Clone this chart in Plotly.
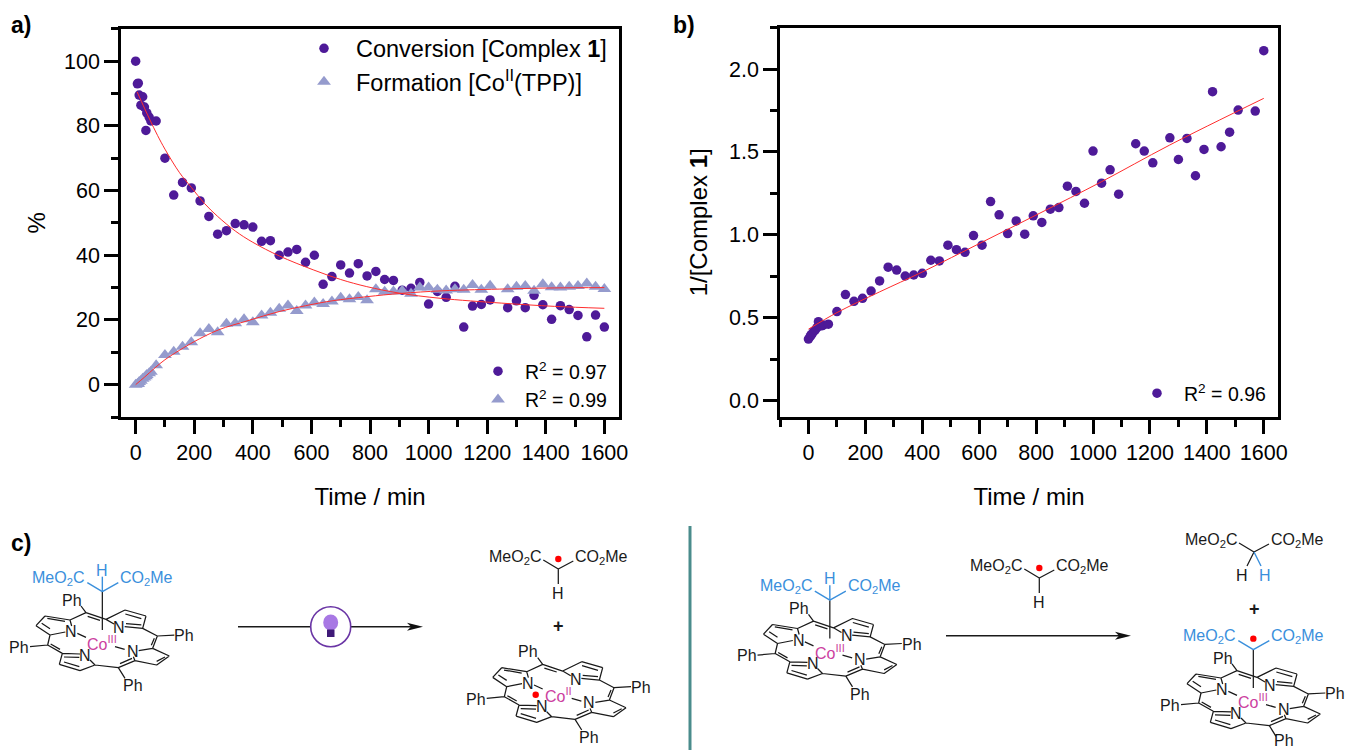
import plotly.graph_objects as go

W, H = 1346, 750

# ---------- data ----------
time_a = [0, 6, 9, 12, 18, 24, 30, 35, 38, 46, 52, 70,
          100, 130, 160, 190, 220, 250, 280, 310, 340, 370, 400, 430, 460, 490, 520, 550, 580, 610,
          640, 670, 700, 730, 760, 790, 820, 850, 880, 910, 940, 970, 1000, 1030, 1060, 1090, 1120,
          1150, 1180, 1210, 1270, 1300, 1330, 1360, 1390, 1420, 1450, 1480, 1510, 1540, 1570, 1600]
conversion = [100, 93, 93.2, 89.5, 86.4, 89, 85.8, 78.6, 84, 82.7, 81.5, 81.5,
              70, 58.6, 62.5, 60.8, 56.8, 52, 46.5, 47.6, 49.8, 49.4, 48.7, 44.3, 44.5, 40, 41, 41.8, 37.8, 40,
              31, 33.4, 37, 34.5, 37.4, 33.6, 35, 32.5, 32.2, 29.2, 29.8, 31.6, 24.9, 28.8, 27, 30.4, 17.8,
              24.3, 24.8, 26.2, 23.8, 25.9, 23.8, 27.6, 24.7, 20.2, 24.4, 23.2, 21.4, 14.8, 21.5, 17.8]
formation = [0, 0.2, 0.3, 0.8, 1.2, 1.8, 2.2, 2.6, 3, 3.5, 4, 6,
             9.2, 10.2, 11.7, 13.1, 15.9, 17.2, 16.2, 18.8, 19, 20.2, 19.3, 21.4, 22.2, 23.5, 24.5, 22.8, 24.5, 25.4,
             24.9, 25.7, 26.9, 26.4, 27.1, 26.1, 29.5, 28.7, 28.8, 29, 28.1, 30, 30, 29.3, 29.1, 29.5, 29.3,
             30.8, 29.3, 30.6, 29.5, 30.3, 30.5, 29, 31, 30.1, 30, 30.3, 30.5, 31.3, 30.3, 29.6]

fit_conv_t = [5, 30, 49, 75, 100, 150, 190, 235, 280, 340, 400, 490, 606, 700, 789, 900, 1039, 1250, 1430, 1600]
fit_conv_y = [90.5, 85.5, 81.8, 77, 72.8, 65.5, 61, 56, 52, 47.5, 44, 39.8, 35.5, 32.5, 30.3, 28.3, 26.7, 25.2, 24.2, 23.6]
fit_form_t = [0, 30, 66, 100, 151, 200, 282, 384, 490, 580, 670, 790, 905, 1045, 1270, 1430, 1600]
fit_form_y = [0, 2.3, 5.2, 7.7, 10.7, 13.3, 16.9, 19.8, 22.6, 24.4, 25.9, 27.2, 28.2, 29, 29.6, 29.9, 30]

time_b = [0, 6, 9, 12, 18, 24, 30, 35, 38, 46, 52, 70,
          100, 130, 160, 190, 220, 250, 280, 310, 340, 370, 400, 430, 460, 490, 520, 550, 580, 610,
          640, 670, 700, 730, 760, 790, 820, 850, 880, 910, 940, 970, 1000, 1030, 1060, 1090,
          1150, 1180, 1210, 1270, 1300, 1330, 1360, 1390, 1420, 1450, 1480, 1510, 1570, 1600]
inverse = [.37, .385, .395, .40, .415, .425, .44, .475, .45, .45, .455, .46,
           .536, .639, .598, .616, .66, .721, .804, .787, .751, .757, .767, .846, .842, .937, .91, .894, .995, .937,
           1.2, 1.12, 1.007, 1.083, 1.003, 1.114, 1.074, 1.154, 1.164, 1.293, 1.261, 1.19, 1.505, 1.311, 1.392, 1.245,
           1.549, 1.505, 1.434, 1.585, 1.454, 1.581, 1.356, 1.515, 1.863, 1.531, 1.619, 1.752, 1.746, 2.111]
fit_inv_t = [0, 100, 250, 400, 610, 813, 1030, 1268, 1600]
fit_inv_y = [.43, .53, .655, .775, .955, 1.13, 1.32, 1.54, 1.823]

r2_a = ["R<sup>2</sup> = 0.97", "R<sup>2</sup> = 0.99"]
r2_b = "R<sup>2</sup> = 0.96"

# ---------- styles ----------
FONT = "Liberation Sans"
PURPLE, LAV, RED = "#4e1a98", "#959bcd", "#ff2d2d"
BLUE, MAG, INK = "#3a8fdc", "#cc3fa0", "#1a1a1a"
circ = dict(symbol="circle", size=9.5, color=PURPLE)
tri = dict(symbol="triangle-up", size=12, color=LAV)

fig = go.Figure()


def fit(x, y, xa, ya):
    fig.add_trace(go.Scatter(x=x, y=y, mode="lines", line=dict(color=RED, width=1, shape="spline"),
                             showlegend=False, xaxis=xa, yaxis=ya, hoverinfo="skip"))


fig.add_trace(go.Scatter(x=time_a, y=conversion, mode="markers", marker=circ, name="Conversion [Complex <b>1</b>]",
                         legend="legend", legendgroup="c"))
fig.add_trace(go.Scatter(x=time_a, y=formation, mode="markers", marker=tri, name="Formation [Co<sup>II</sup>(TPP)]",
                         legend="legend", legendgroup="f"))
fit(fit_conv_t, fit_conv_y, "x", "y")
fit(fit_form_t, fit_form_y, "x", "y")
fig.add_trace(go.Scatter(x=[None], y=[None], mode="markers", marker=circ, name=r2_a[0], legend="legend2", legendgroup="r1"))
fig.add_trace(go.Scatter(x=[None], y=[None], mode="markers", marker=tri, name=r2_a[1], legend="legend2", legendgroup="r2"))

fig.add_trace(go.Scatter(x=time_b, y=inverse, mode="markers", marker=circ, showlegend=False, xaxis="x2", yaxis="y2"))
fit(fit_inv_t, fit_inv_y, "x2", "y2")
fig.add_trace(go.Scatter(x=[None], y=[None], mode="markers", marker=circ, name=r2_b, legend="legend3",
                         xaxis="x2", yaxis="y2"))


def X(p): return p / W
def Y(p): return 1 - p / H


def axis(**kw):
    d = dict(showgrid=False, zeroline=False, showline=True, mirror=True, linecolor="black", linewidth=2.5,
             ticks="outside", ticklen=14, tickwidth=2.5, tickcolor="black",
             tickfont=dict(family=FONT, size=21.5, color="black"))
    d.update(kw)
    return d


def title(t, standoff):
    return dict(text=t, font=dict(family=FONT, size=24, color="black"), standoff=standoff)


minor_x = dict(ticks="outside", dtick=100, tick0=0, ticklen=7, tickwidth=2.5, tickcolor="black")
fig.update_layout(
    width=W, height=H, margin=dict(l=0, r=0, t=0, b=0, pad=0, autoexpand=False),
    paper_bgcolor="white", plot_bgcolor="white", showlegend=True,
    font=dict(family=FONT, color="black"),
    xaxis=axis(domain=[X(121), X(619)], range=[-50, 1650], dtick=200, tick0=0, minor=minor_x,
               title=title("Time / min", 25), anchor="y"),
    yaxis=axis(domain=[Y(417), Y(28.8)], range=[-10, 110], dtick=20, tick0=0,
               minor=dict(ticks="outside", dtick=10, tick0=0, ticklen=7, tickwidth=2.5, tickcolor="black"),
               title=title("%", 12), anchor="x"),
    xaxis2=axis(domain=[X(780), X(1278)], range=[-100, 1650], dtick=200, tick0=0, minor=minor_x,
                title=title("Time / min", 25), anchor="y2"),
    yaxis2=axis(domain=[Y(417), Y(27.6)], range=[-0.1, 2.25], dtick=0.5, tick0=0, tickformat=".1f",
                minor=dict(ticks="outside", dtick=0.25, tick0=0, ticklen=7, tickwidth=2.5, tickcolor="black"),
                title=title("1/[Complex <b>1</b>]", 15), anchor="x2"),
    legend=dict(x=X(292), y=Y(26.5), xanchor="left", yanchor="top", bgcolor="rgba(0,0,0,0)", itemwidth=54,
                tracegroupgap=0, font=dict(family=FONT, size=23.5, color="black"), itemclick=False),
    legend2=dict(x=X(471), y=Y(352), xanchor="left", yanchor="top", bgcolor="rgba(0,0,0,0)", itemwidth=44,
                 tracegroupgap=0, font=dict(family=FONT, size=19.5, color="black")),
    legend3=dict(x=X(1130), y=Y(374), xanchor="left", yanchor="top", bgcolor="rgba(0,0,0,0)", itemwidth=44,
                 font=dict(family=FONT, size=19.5, color="black")),
)

# ---------- reaction scheme (decoration, drawn in page pixels) ----------
shapes, notes = [], []


def path(segs, color=INK, width=1.25):
    d = " ".join(f"M{X(a):.5f},{Y(b):.5f} L{X(c):.5f},{Y(e):.5f}" for a, b, c, e in segs)
    shapes.append(dict(type="path", xref="paper", yref="paper", path=d, line=dict(color=color, width=width)))


def text(px, py, s, size=16, color=INK, bold=False, anchor="center"):
    notes.append(dict(x=X(px), y=Y(py), xref="paper", yref="paper", text=f"<b>{s}</b>" if bold else s, showarrow=False,
                      xanchor=anchor, yanchor="middle", font=dict(family=FONT, size=size, color=color)))


def dot(px, py, r=3.2):
    shapes.append(dict(type="circle", xref="paper", yref="paper", x0=X(px - r), x1=X(px + r), y0=Y(py + r), y1=Y(py - r),
                       fillcolor="#ff0000", line=dict(width=0)))


RING = [(258, 248, 210, 270), (258, 248, 243, 228), (258, 248, 318, 268), (263, 259, 300, 271),
        (210, 270, 135, 258), (135, 258, 108, 287), (108, 287, 150, 315), (125, 280, 150, 296), (142, 265, 195, 274),
        (210, 270, 215, 288), (150, 315, 196, 306),
        (318, 268, 375, 240), (375, 240, 438, 258), (438, 258, 428, 295), (376, 252, 424, 266),
        (318, 268, 342, 282), (428, 295, 374, 290), (424, 285, 378, 281),
        (428, 295, 472, 318), (472, 318, 523, 315), (472, 318, 458, 355), (463, 325, 454, 346),
        (458, 355, 508, 378), (508, 378, 470, 405), (470, 405, 405, 392), (495, 381, 470, 394),
        (458, 355, 416, 362), (405, 392, 400, 380),
        (405, 392, 355, 413), (396, 385, 360, 401), (355, 413, 285, 405), (355, 413, 375, 445),
        (285, 405, 240, 422), (240, 422, 178, 403), (178, 403, 187, 370), (238, 410, 192, 396),
        (285, 405, 270, 390), (187, 370, 240, 372), (192, 381, 238, 382),
        (187, 370, 143, 345), (180, 358, 152, 342), (143, 345, 150, 315), (143, 345, 90, 350),
        (232, 310, 258, 322), (345, 350, 374, 358)]


def porphyrin(ox, oy, co, show_axial=True, radical=False, bottom_ph_dy=0):
    P = lambda a, b: (ox + a / 3, 530 + oy + b / 3)
    segs = []
    for a, b, c, e in RING:
        p, q = P(a, b), P(c, e)
        segs.append((p[0], p[1], q[0], q[1]))
    path(segs)
    for (a, b) in [(215, 210), (553, 317), (58, 352)]:
        text(*P(a, b), "Ph")
    bx, by = P(398, 467)
    text(bx, by + bottom_ph_dy, "Ph")
    for (a, b) in [(213, 305), (358, 292), (398, 363), (255, 375)]:
        text(*P(a, b), "N")
    text(*P(306, 340), f"Co<sup>{co}</sup>", color=MAG)
    if show_axial:
        p, q = P(307, 185), P(307, 300)
        path([(p[0], p[1], q[0], q[1])])
        a, b, c = P(262, 158), P(355, 158)[0], P(355, 158)[1]
        path([(p[0], p[1], a[0], a[1]), (p[0], p[1], b, c)], color=BLUE, width=1.4)
        text(*P(175, 145), "MeO<sub>2</sub>C", color=BLUE)
        text(*P(440, 145), "CO<sub>2</sub>Me", color=BLUE)
        if radical:
            dot(p[0], p[1] - 11)
        else:
            t = P(307, 140)
            path([(p[0], p[1], t[0], t[1])], color=BLUE, width=1.4)
            text(*P(307, 120), "H", color=BLUE)


def malonate(ox, oy, radical=True):
    cx, cy = 558.3 + ox, 569 + oy
    path([(cx, cy, cx - 15, cy - 9), (cx, cy, cx + 15, cy - 8), (cx, cy, cx, cy + 15)])
    text(cx - 43, cy - 12, "MeO<sub>2</sub>C")
    text(cx + 43, cy - 12, "CO<sub>2</sub>Me")
    if radical:
        dot(cx, cy - 10)
        text(cx, cy + 24, "H")


def arrow(x0, x1, y):
    path([(x0, y, x1 - 8, y)], width=1.5)
    d = f"M{X(x1):.5f},{Y(y):.5f} L{X(x1 - 16):.5f},{Y(y - 4):.5f} L{X(x1 - 12):.5f},{Y(y):.5f} L{X(x1 - 16):.5f},{Y(y + 4):.5f} Z"
    shapes.append(dict(type="path", xref="paper", yref="paper", path=d, fillcolor="#111111", line=dict(width=0)))


def circle(cx, cy, rx, ry, fill, line=None, lw=0):
    shapes.append(dict(type="circle", xref="paper", yref="paper", x0=X(cx - rx), x1=X(cx + rx), y0=Y(cy + ry), y1=Y(cy - ry),
                       fillcolor=fill, line=dict(color=line, width=lw) if line else dict(width=0)))


# left half
porphyrin(0, 0, "III")
arrow(238, 423, 626.7)
circle(330.7, 626.7, 20, 20, "white", "#6a35a5", 1.6)
circle(330.7, 622.5, 7.5, 8, "#a878e4")
shapes.append(dict(type="rect", xref="paper", yref="paper", x0=X(327), x1=X(334.5), y0=Y(637), y1=Y(629.5),
                   fillcolor="#3f1a78", line=dict(width=0)))
malonate(0, 0)
text(558.3, 626, "+", size=18, bold=True)
porphyrin(456.7, 51.7, "II", show_axial=False)
dot(535.7, 694.7)

# divider
shapes.append(dict(type="line", xref="paper", yref="paper", x0=X(690), x1=X(690), y0=Y(750), y1=Y(526),
                   line=dict(color="#4a8c8c", width=3)))

# right half
porphyrin(727.5, 8.5, "III")
arrow(946, 1131, 635.7)
malonate(481, 9)
cx, cy = 1254, 552
path([(cx, cy, cx - 15, cy - 9), (cx, cy, cx + 15, cy - 8), (cx, cy, cx - 7, cy + 14)])
path([(cx, cy, cx + 7, cy + 14)], color=BLUE, width=1.4)
text(cx - 43, cy - 12, "MeO<sub>2</sub>C")
text(cx + 43, cy - 12, "CO<sub>2</sub>Me")
text(cx - 12, cy + 23, "H")
text(cx + 11, cy + 23, "H", color=BLUE)
text(1254, 609, "+", size=18, bold=True)
porphyrin(1151, 58, "III", radical=True, bottom_ph_dy=-3)

# panel letters
text(8.5, 25, "a)", size=23, color="black", bold=True, anchor="left")
text(670.5, 25, "b)", size=23, color="black", bold=True, anchor="left")
text(8.5, 543, "c)", size=23, color="black", bold=True, anchor="left")

fig.update_layout(shapes=shapes, annotations=notes)
fig.write_html("out.html", config=dict(displayModeBar=False),
               post_script="document.body.style.margin='0';document.documentElement.style.overflow='hidden';")
